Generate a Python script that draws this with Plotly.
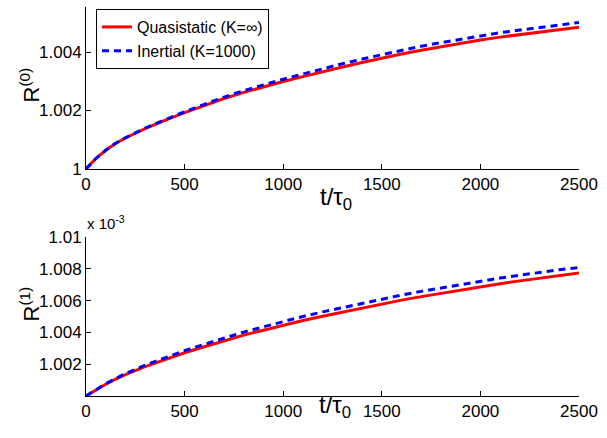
import plotly.graph_objects as go

# ---- data ----
t = [0, 50, 100, 150, 200, 300, 400, 500, 600, 700, 800, 900, 1000, 1100, 1200,
     1300, 1400, 1500, 1600, 1700, 1800, 1900, 2000, 2100, 2200, 2300, 2400, 2500]

# top panel, R^(0)
r0_quasi = [1.0, 1.00036, 1.00064, 1.00087, 1.00106, 1.00138, 1.00166, 1.00193,
            1.00217, 1.00241, 1.00262, 1.00281, 1.00299, 1.00316, 1.00333,
            1.00349, 1.00364, 1.00379, 1.00393, 1.00406, 1.00418, 1.00430,
            1.00441, 1.00451, 1.00460, 1.00469, 1.00477, 1.00485]
r0_inert = [1.0, 1.00036, 1.00064, 1.00088, 1.00107, 1.00140, 1.00168, 1.00196,
            1.00221, 1.00246, 1.00268, 1.00288, 1.00307, 1.00325, 1.00343,
            1.00360, 1.00376, 1.00391, 1.00406, 1.00420, 1.00432, 1.00444,
            1.00456, 1.00466, 1.00475, 1.00484, 1.00493, 1.00501]

# bottom panel, R^(1)  (shown in units of 1e-3)
r1_quasi = [1.0, 1.00038, 1.00074, 1.00106, 1.00135, 1.00185, 1.00230, 1.00272,
            1.00310, 1.00347, 1.00383, 1.00414, 1.00445, 1.00475, 1.00502,
            1.00528, 1.00554, 1.00579, 1.00603, 1.00625, 1.00646, 1.00666,
            1.00687, 1.00706, 1.00724, 1.00742, 1.00758, 1.00774]
r1_inert = [1.0, 1.00040, 1.00077, 1.00110, 1.00141, 1.00194, 1.00241, 1.00285,
            1.00325, 1.00364, 1.00402, 1.00435, 1.00468, 1.00500, 1.00529,
            1.00556, 1.00584, 1.00610, 1.00635, 1.00658, 1.00680, 1.00701,
            1.00722, 1.00742, 1.00760, 1.00778, 1.00794, 1.00808]

x_ticks = [0, 500, 1000, 1500, 2000, 2500]
x_tick_text = ['0', '500', '1000', '1500', '2000', '2500']
top_y_ticks = [1.0, 1.002, 1.004]
top_y_text = ['1', '1.002', '1.004']
bot_y_ticks = [1.002, 1.004, 1.006, 1.008, 1.010]
bot_y_text = ['1.002', '1.004', '1.006', '1.008', '1.01']

W, H = 607, 438
L, R, T, B = 86, 28, 7, 42          # plot area: x 86..579, y 7..396
PW, PH = W - L - R, H - T - B
FONT = "Liberation Sans, Arial, sans-serif"
RED = "#ff0000"
BLUE = "#0000ff"


def fx(p):
    return (p - L) / PW


def fy(p):
    return (H - B - p) / PH


fig = go.Figure()
fig.add_trace(go.Scatter(x=t, y=r0_quasi, mode="lines", name="Quasistatic (K=∞)",
                         line=dict(color=RED, width=3), xaxis="x", yaxis="y"))
fig.add_trace(go.Scatter(x=t, y=r0_inert, mode="lines", name="Inertial (K=1000)",
                         line=dict(color=BLUE, width=3, dash="7px,5px"),
                         xaxis="x", yaxis="y"))
fig.add_trace(go.Scatter(x=t, y=r1_quasi, mode="lines", showlegend=False,
                         line=dict(color=RED, width=3), xaxis="x2", yaxis="y2"))
fig.add_trace(go.Scatter(x=t, y=r1_inert, mode="lines", showlegend=False,
                         line=dict(color=BLUE, width=3, dash="7px,5px"),
                         xaxis="x2", yaxis="y2"))

axis_common = dict(showline=True, linecolor="black", linewidth=1, ticks="inside",
                   ticklen=5, tickcolor="black", showgrid=False, zeroline=False,
                   mirror=False, automargin=False)
xfont = dict(family=FONT, size=17, color="black")
yfont = dict(family=FONT, size=17, color="black")

fig.update_layout(
    width=W, height=H, margin=dict(l=L, r=R, t=T, b=B, autoexpand=False),
    paper_bgcolor="white", plot_bgcolor="white",
    font=dict(family=FONT, color="black"),
    xaxis=dict(domain=[0, 1], range=[0, 2500], anchor="y",
               tickvals=x_ticks, ticktext=x_tick_text, tickfont=xfont, **axis_common),
    yaxis=dict(domain=[fy(169), 1], range=[1.0, 1.00554], anchor="x",
               tickvals=top_y_ticks, ticktext=top_y_text, tickfont=yfont, **axis_common),
    xaxis2=dict(domain=[0, 1], range=[0, 2500], anchor="y2",
                tickvals=x_ticks, ticktext=x_tick_text, tickfont=xfont, **axis_common),
    yaxis2=dict(domain=[0, fy(237)], range=[1.0, 1.010], anchor="x2",
                tickvals=bot_y_ticks, ticktext=bot_y_text, tickfont=yfont, **axis_common),
    legend=dict(x=fx(96), y=fy(9), xanchor="left", yanchor="top",
                bgcolor="white", bordercolor="black", borderwidth=1,
                font=dict(family=FONT, size=16, color="black"),
                tracegroupgap=0, itemwidth=30),
    showlegend=True,
)

annotations = [
    dict(text="R<sup>(0)</sup>", x=fx(13), y=fy(66), xref="paper", yref="paper",
         textangle=-90, showarrow=False, font=dict(family=FONT, size=22)),
    dict(text="R<sup>(1)</sup>", x=fx(13), y=fy(324), xref="paper", yref="paper",
         textangle=-90, showarrow=False, font=dict(family=FONT, size=22)),
    dict(text="t/τ<sub>0</sub>", x=fx(336), y=fy(198), xref="paper", yref="paper",
         showarrow=False, font=dict(family=FONT, size=24)),
    dict(text="t/τ<sub>0</sub>", x=fx(335), y=fy(424), xref="paper", yref="paper",
         showarrow=False, font=dict(family=FONT, size=24)),
    dict(text="x 10<sup>-3</sup>", x=fx(85), y=fy(234), xref="paper", yref="paper",
         xanchor="left", yanchor="bottom", showarrow=False,
         font=dict(family=FONT, size=15)),
]
fig.update_layout(annotations=annotations)

fig.write_html("out.html", config={"displayModeBar": False},
               post_script="document.body.style.margin='0';document.body.style.padding='0';")
